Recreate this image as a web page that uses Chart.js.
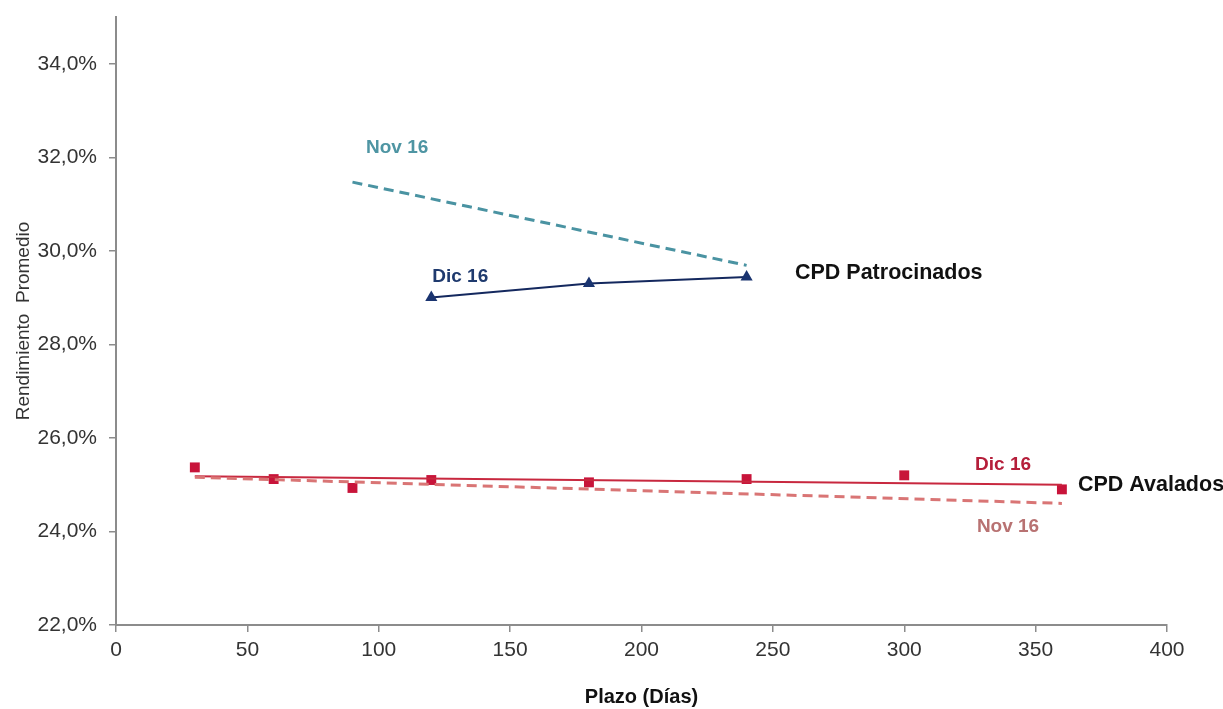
<!DOCTYPE html>
<html>
<head>
<meta charset="utf-8">
<script src="https://cdn.jsdelivr.net/npm/chart.js@4.4.1/dist/chart.umd.min.js"></script>
<style>
  html, body { margin: 0; padding: 0; background: #ffffff; }
  #wrap { width: 1223px; height: 709px; position: relative; }
</style>
</head>
<body>
<div id="wrap"><canvas id="c"></canvas></div>
<script>
// Plazo (días) y rendimiento promedio (%)
const avaladosPlazos   = [30, 60, 90, 120, 180, 240, 300, 360];
const avaladosDic16    = [25.37, 25.12, 24.93, 25.10, 25.05, 25.12, 25.20, 24.90];
const avaladosTrendX   = [30, 360];
const avaladosTrendDic = [25.18, 25.00];
const avaladosTrendNov = [25.16, 24.60];

const patrocinadosPlazos = [120, 180, 240];
const patrocinadosDic16  = [29.00, 29.30, 29.44];
const patrocinadosNovX   = [90, 240];
const patrocinadosNov16  = [31.47, 29.69];

const yTicks = [22, 24, 26, 28, 30, 32, 34];
const xTicks = [0, 50, 100, 150, 200, 250, 300, 350, 400];

// Etiquetas de texto sobre el gráfico (ancladas en coordenadas de datos)
const annotations = [
  { text: 'Nov 16', x: 107, y: 32.2, color: '#4e95a3', size: 19, align: 'center' },
  { text: 'Dic 16', x: 131, y: 29.45, color: '#1f3a6e', size: 19, align: 'center' },
  { text: 'CPD Patrocinados', x: 258.4, y: 29.52, color: '#111111', size: 21.5, align: 'left' },
  { text: 'Dic 16', x: 337.6, y: 25.42, color: '#b51e3a', size: 19, align: 'center' },
  { text: 'CPD Avalados', x: 366.1, y: 24.99, color: '#111111', size: 21.5, align: 'left' },
  { text: 'Nov 16', x: 339.5, y: 24.09, color: '#b87272', size: 19, align: 'center' }
];

const pts = (xs, ys) => xs.map((x, i) => ({ x: x, y: ys[i] }));

const FONT = "'Liberation Sans', Arial, sans-serif";
const AXIS = '#8c8c8c';

const textPlugin = {
  id: 'textLabels',
  afterDatasetsDraw(chart) {
    const ctx = chart.ctx;
    const sx = chart.scales.x, sy = chart.scales.y;
    ctx.save();
    ctx.textBaseline = 'middle';
    annotations.forEach(a => {
      ctx.font = 'bold ' + a.size + 'px ' + FONT;
      ctx.fillStyle = a.color;
      ctx.textAlign = a.align;
      ctx.fillText(a.text, sx.getPixelForValue(a.x), sy.getPixelForValue(a.y));
    });
    ctx.restore();
  }
};

new Chart(document.getElementById('c'), {
  type: 'scatter',
  data: {
    datasets: [
      {
        label: 'CPD Avalados Nov 16',
        data: pts(avaladosTrendX, avaladosTrendNov),
        showLine: true,
        borderColor: '#d97575',
        borderWidth: 3,
        borderDash: [10, 6],
        pointRadius: 0,
        fill: false
      },
      {
        label: 'CPD Avalados Dic 16 (tendencia)',
        data: pts(avaladosTrendX, avaladosTrendDic),
        showLine: true,
        borderColor: '#c8283f',
        borderWidth: 2,
        pointRadius: 0,
        fill: false
      },
      {
        label: 'CPD Avalados Dic 16',
        data: pts(avaladosPlazos, avaladosDic16),
        showLine: false,
        pointStyle: 'rect',
        pointRadius: 7,
        pointBackgroundColor: '#c8143a',
        pointBorderColor: '#c8143a',
        pointBorderWidth: 0
      },
      {
        label: 'CPD Patrocinados Nov 16',
        data: pts(patrocinadosNovX, patrocinadosNov16),
        showLine: true,
        borderColor: '#4a93a2',
        borderWidth: 3,
        borderDash: [10, 6],
        pointRadius: 0,
        fill: false
      },
      {
        label: 'CPD Patrocinados Dic 16',
        data: pts(patrocinadosPlazos, patrocinadosDic16),
        showLine: true,
        borderColor: '#14285e',
        borderWidth: 2,
        pointStyle: 'triangle',
        pointRadius: 7,
        pointBackgroundColor: '#1a3470',
        pointBorderColor: '#1a3470',
        pointBorderWidth: 0
      }
    ]
  },
  options: {
    responsive: true,
    maintainAspectRatio: false,
    animation: false,
    layout: { padding: { top: 17, right: 56, left: 0, bottom: 0 } },
    plugins: {
      legend: { display: false },
      tooltip: { enabled: false }
    },
    scales: {
      x: {
        type: 'linear',
        min: 0,
        max: 400,
        afterBuildTicks(scale) { scale.ticks = xTicks.map(v => ({ value: v })); },
        afterFit(scale) { scale.height = 84; },
        border: { display: true, color: AXIS, width: 2 },
        grid: { drawOnChartArea: false, drawTicks: true, tickLength: 7, color: AXIS, lineWidth: 1.5 },
        ticks: {
          color: '#333333',
          font: { family: FONT, size: 21 },
          padding: 6,
          maxRotation: 0
        },
        title: {
          display: true,
          text: 'Plazo (Días)',
          color: '#111111',
          font: { family: FONT, size: 20, weight: 'bold' },
          padding: { top: 0, bottom: 0 }
        }
      },
      y: {
        type: 'linear',
        min: 22,
        max: 35,
        afterBuildTicks(scale) { scale.ticks = yTicks.map(v => ({ value: v })); },
        afterFit(scale) {
          scale.width = 116;
          scale.paddingTop = 0;
          scale.paddingBottom = 0;
        },
        border: { display: true, color: AXIS, width: 2 },
        grid: { drawOnChartArea: false, drawTicks: true, tickLength: 7, color: AXIS, lineWidth: 1.5 },
        ticks: {
          color: '#333333',
          font: { family: FONT, size: 21 },
          padding: 12,
          callback: v => v.toFixed(1).replace('.', ',') + '%'
        },
        title: {
          display: true,
          text: 'Rendimiento  Promedio',
          color: '#333333',
          font: { family: FONT, size: 19 },
          padding: { top: 12, bottom: 0 }
        }
      }
    }
  },
  plugins: [textPlugin]
});
</script>
</body>
</html>
